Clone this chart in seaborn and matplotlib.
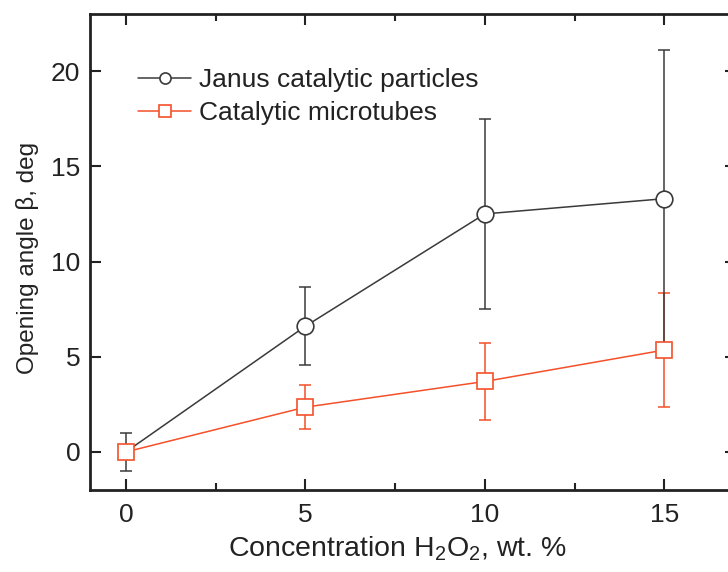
import numpy as np
import pandas as pd
import matplotlib.pyplot as plt
import seaborn as sns
from matplotlib.ticker import MultipleLocator

# data
conc = [0, 5, 10, 15]
janus_angle = [0.0, 6.6, 12.5, 13.3]
janus_err = [1.0, 2.05, 5.0, 7.8]
tube_angle = [0.0, 2.35, 3.7, 5.35]
tube_err = [0.3, 1.15, 2.0, 3.0]

labels = ['Janus catalytic particles', 'Catalytic microtubes']
colors = ['#3a3a3a', '#f4502a']

sns.set_style('ticks')
plt.rcParams['font.family'] = ['Liberation Sans', 'DejaVu Sans']
plt.rcParams['mathtext.default'] = 'regular'

fig = plt.figure(figsize=(7.28, 5.72), dpi=100)
ax = fig.add_axes([90 / 728, 82 / 572, 646 / 728, 476 / 572])

# error bars first so markers sit on top
ax.errorbar(conc, tube_angle, yerr=tube_err, fmt='none', ecolor=colors[1],
            elinewidth=1.1, capsize=4, capthick=1.1, zorder=2)
ax.errorbar(conc, janus_angle, yerr=janus_err, fmt='none', ecolor=colors[0],
            elinewidth=1.1, capsize=4, capthick=1.1, zorder=2)

# janus circle at 0 is hidden under the square in the original
sns.lineplot(x=conc, y=janus_angle, color=colors[0], marker='o', markersize=12,
             mfc='white', mec=colors[0], mew=1.2, linewidth=1.1,
             markevery=[1, 2, 3], label=labels[0], ax=ax, zorder=3)
sns.lineplot(x=conc, y=tube_angle, color=colors[1], marker='s', markersize=11,
             mfc='white', mec=colors[1], mew=1.2, linewidth=1.1,
             label=labels[1], ax=ax, zorder=4)

ax.set_xlim(-1, 17)
ax.set_ylim(-2, 23)
ax.xaxis.set_major_locator(MultipleLocator(5))
ax.xaxis.set_minor_locator(MultipleLocator(2.5))
ax.yaxis.set_major_locator(MultipleLocator(5))

ax.tick_params(which='both', direction='in', top=True, right=True,
               width=1.5, labelsize=19, colors='#222222')
ax.tick_params(axis='x', pad=9)
ax.tick_params(axis='y', pad=7)
ax.tick_params(which='major', length=8)
ax.tick_params(which='minor', length=5)
for sp in ax.spines.values():
    sp.set_linewidth(2)
    sp.set_color('#222222')

ax.set_xlabel('Concentration H$_2$O$_2$, wt. %', fontsize=20.5, color='#222222')
ax.xaxis.set_label_coords(0.476, -0.124, transform=ax.transAxes)
ax.xaxis.label.set_va('center')
ax.set_ylabel('Opening angle β, deg', fontsize=17.5, color='#222222')
ax.yaxis.set_label_coords(-0.0975, 0.487, transform=ax.transAxes)
ax.yaxis.label.set_va('center')

leg = ax.legend(loc='upper left', bbox_to_anchor=(0.046, 0.925), frameon=False,
                fontsize=19, handlelength=2.0, handletextpad=0.3,
                labelspacing=0.35, borderaxespad=0.3)
for h in leg.legend_handles:
    h.set_markersize(8)
    h.set_markevery([1])
for t in leg.get_texts():
    t.set_color('#222222')

fig.savefig('out.png', dpi=100)
